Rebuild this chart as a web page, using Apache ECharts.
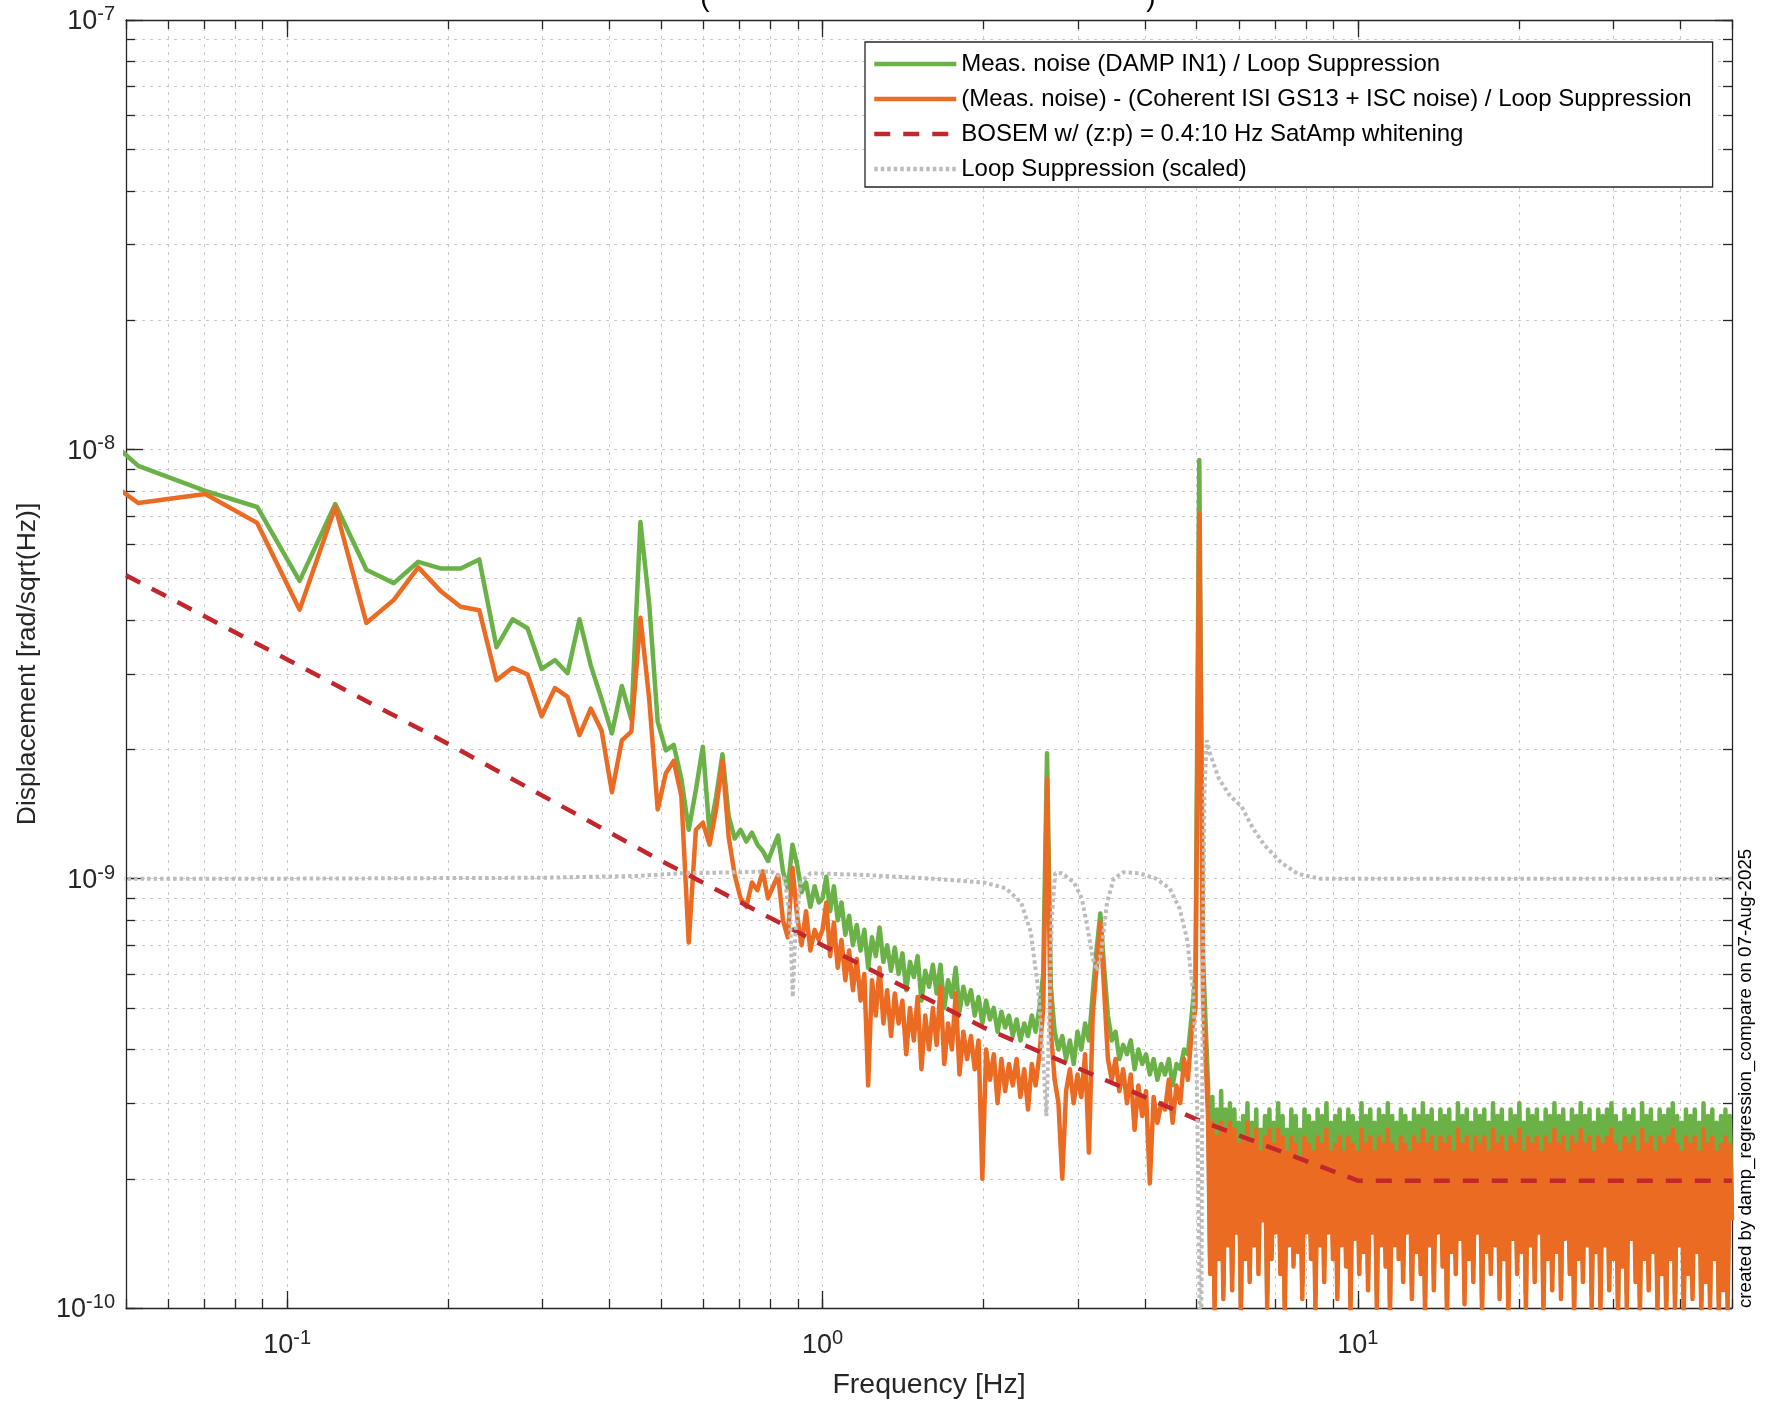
<!DOCTYPE html>
<html><head><meta charset="utf-8">
<script src="https://cdn.jsdelivr.net/npm/echarts@6/dist/echarts.min.js"></script>
<style>html,body{margin:0;padding:0;background:#fff}#c{width:1769px;height:1407px}</style>
</head><body><div id="c"></div>
<script>
// ---------------- data (values in units of 1e-10 rad/sqrt(Hz)) ----------------
const UNIT = 1e-10;
const xMajorTicks = [0.1, 1, 10];
const xGridTicks = [0.05,0.06,0.07,0.08,0.09,0.1,0.2,0.3,0.4,0.5,0.6,0.7,0.8,0.9,1,2,3,4,5,6,7,8,9,10,20,30,40,50];
const yMajorTicks = [1e-10, 1e-9, 1e-8, 1e-7];
const yGridTicks = [1e-10,2e-10,3e-10,4e-10,5e-10,6e-10,7e-10,8e-10,9e-10,
  1e-9,2e-9,3e-9,4e-9,5e-9,6e-9,7e-9,8e-9,9e-9,
  1e-8,2e-8,3e-8,4e-8,5e-8,6e-8,7e-8,8e-8,9e-8,1e-7];
const legendNames = [
  'Meas. noise (DAMP IN1) / Loop Suppression',
  '(Meas. noise) - (Coherent ISI GS13 + ISC noise) / Loop Suppression',
  'BOSEM w/ (z:p) = 0.4:10 Hz SatAmp whitening',
  'Loop Suppression (scaled)'
];

// low-frequency FFT bins (Hz)
const freqLow = [0.0352,0.0527,0.0703,0.0879,0.1055,0.1230,0.1406,0.1582,0.1758,0.1934,
  0.2109,0.2285,0.2461,0.2637,0.2812,0.2988,0.3164,0.3340,0.3516,0.3691,
  0.3867,0.4043,0.4219,0.4395,0.4570,0.4746,0.4922,0.5098,0.5273,0.5449,
  0.5625,0.5801,0.5977,0.6152,0.6328,0.6504,0.6680,0.6855,0.7031,0.7207,
  0.7383,0.7559,0.7734,0.7910,0.8086,0.8262,0.8438,0.8613,0.8789,0.8965,
  0.9141,0.9316,0.9492,0.9668,0.9844];
const measLow = [143.6,91.5,80.0,73.4,49.4,74.6,52.4,48.8,54.7,52.8,
  52.8,55.4,34.6,40.2,38.3,30.8,32.3,30.1,40.2,31.4,
  26.2,21.8,28.1,23.5,67.7,43.6,23.2,19.9,20.5,17.1,
  13.0,16.1,20.3,12.8,15.5,19.5,14.0,12.4,13.0,12.2,
  12.8,12.0,11.6,11.0,11.8,12.6,10.4,9.5,12.0,10.8,
  9.3,9.8,8.6,9.6,8.8];
const residLow = [107.6,75.0,78.7,67.4,42.3,73.4,39.4,44.6,53.1,46.8,
  43.0,42.2,29.0,31.0,29.9,23.9,27.8,26.5,21.6,24.9,
  22.1,15.9,21.0,22.0,40.5,26.2,14.5,17.6,18.8,15.6,
  7.1,13.0,13.5,12.0,14.5,18.8,12.5,10.2,9.0,8.6,
  9.8,9.4,10.4,9.0,9.6,10.2,8.0,7.3,10.6,8.2,
  7.0,8.4,6.8,7.6,7.2];

const MID_F0 = 1.0, MID_F1 = 5.14;
const measMid = [9.0,10.1,8.4,9.6,8.0,8.8,7.4,8.2,7.0,7.8,
  6.8,7.6,6.2,7.3,6.6,7.7,6.4,7.0,6.1,6.9,
  6.0,6.7,5.5,6.4,5.9,6.6,5.2,6.1,5.6,6.3,
  5.4,6.3,5.0,5.8,5.3,6.2,4.9,5.6,5.1,5.5,
  4.8,5.3,4.6,5.2,4.7,5.0,4.4,4.9,4.5,4.8,
  4.3,4.7,4.2,4.6,4.3,4.8,4.4,5.0,6.0,19.6,
  5.6,4.4,4.0,4.3,3.8,4.2,3.7,4.4,4.0,4.6,
  4.2,5.4,6.8,8.3,6.2,4.8,4.2,4.4,3.8,4.1,
  3.9,4.2,3.6,4.0,3.7,3.9,3.5,3.8,3.4,3.7,
  3.5,3.8,3.3,3.7,3.6,4.0,3.9,4.8,6.0,94.4,
  6.5];
const residMid = [7.6,8.8,6.6,7.9,6.2,7.2,5.8,6.8,5.5,6.5,
  5.2,6.0,3.3,5.8,4.8,6.2,4.6,5.5,4.3,5.4,
  4.6,5.2,3.9,5.0,4.2,5.3,3.6,4.8,4.0,5.0,
  4.1,5.6,3.7,4.6,4.0,5.4,3.5,4.4,3.8,4.3,
  3.6,4.2,2.0,4.0,3.4,3.9,3.0,3.8,3.2,3.7,
  3.3,3.8,3.1,3.6,2.9,3.7,3.3,3.9,5.0,17.1,
  4.4,3.4,3.0,2.0,3.2,3.6,3.0,3.5,3.1,3.9,
  2.3,4.8,6.2,7.9,5.5,3.8,3.4,3.8,3.2,3.6,
  3.0,3.5,2.6,3.3,2.8,3.2,1.95,3.1,2.7,3.0,
  2.9,3.4,2.7,3.3,3.0,3.8,3.4,4.4,5.0,71.0,
  5.2];

const HIGH_F0 = 5.25, HIGH_F1 = 50;
const measHigh = [3.3,1.3,3.1,1.06,2.9,1.4,3.2,1.13,2.9,1.5,
  3.0,1.2,2.9,1.6,2.7,1.05,2.8,1.4,3.0,1.25,
  2.7,1.5,2.9,1.3,2.6,1.7,2.8,1.08,2.9,1.4,
  2.7,1.6,3.0,1.3,2.8,1.04,2.6,1.5,2.9,1.35,
  2.8,1.45,2.6,1.13,2.9,1.6,2.8,1.4,2.7,1.07,
  2.9,1.5,2.8,1.25,3.0,1.6,2.7,1.4,2.8,1.13,
  2.9,1.5,2.7,1.35,2.9,1.05,2.8,1.55,2.7,1.3,
  3.0,1.45,2.8,1.2,2.9,1.6,2.7,1.08,2.9,1.5,
  2.8,1.35,3.0,1.04,2.8,1.5,2.7,1.4,2.9,1.25,
  2.8,1.6,2.7,1.13,2.9,1.45,2.8,1.3,3.0,1.06,
  2.8,1.5,2.9,1.2,2.7,1.6,2.9,1.35,2.8,1.04,
  2.9,1.45,2.7,1.3,3.0,1.55,2.8,1.1,2.9,1.4,
  2.7,1.25,2.9,1.6,2.8,1.05,2.9,1.45,2.7,1.3,
  3.0,1.5,2.8,1.13,2.9,1.4,2.7,1.04,2.9,1.55,
  2.8,1.3,3.0,1.45,2.7,1.08,2.9,1.5,2.8,1.25,
  2.9,1.6,2.7,1.05,2.9,1.4,2.8,1.2,3.0,1.45,
  2.8,1.13,2.9,1.55,2.7,1.3,2.9,1.04,2.8,1.4,
  3.0,1.25,2.8,1.5,2.9,1.08,2.7,1.45,2.9,1.06,
  2.8,1.5,2.9,1.2,3.0,1.4,2.8,1.04,2.7,1.35,
  2.9,1.08,2.8,1.55,2.9,1.25,2.7,1.05,3.0,1.4,
  2.8,1.2,2.9,1.45,2.7,1.06,2.9,1.3,2.8,1.04,
  2.9,1.4,3.0,1.08,2.8,1.5,2.7,1.05,2.9,1.3,
  2.8,1.13,2.9,1.45,2.7,1.04,3.0,1.25,2.8,1.08,
  2.9,1.4,2.7,1.05,2.8,1.2,2.9,1.06,2.8,1.7];
const residHigh = [2.8,1.2,2.7,0.98,2.5,1.3,2.7,1.05,2.6,1.4,
  2.7,1.1,2.6,1.5,2.4,0.97,2.5,1.3,2.7,1.15,
  2.4,1.4,2.6,1.2,2.3,1.6,2.5,1.0,2.6,1.3,
  2.4,1.5,2.6,1.2,2.5,0.96,2.3,1.4,2.5,1.25,
  2.4,1.35,2.2,1.05,2.5,1.5,2.4,1.3,2.3,0.99,
  2.5,1.4,2.4,1.15,2.6,1.5,2.3,1.3,2.4,1.05,
  2.5,1.4,2.3,1.25,2.5,0.97,2.4,1.45,2.3,1.2,
  2.6,1.35,2.4,1.1,2.5,1.5,2.3,1.0,2.5,1.4,
  2.4,1.25,2.6,0.96,2.4,1.4,2.3,1.3,2.5,1.15,
  2.4,1.5,2.3,1.05,2.5,1.35,2.4,1.2,2.6,0.98,
  2.4,1.4,2.5,1.1,2.3,1.5,2.5,1.25,2.4,0.96,
  2.5,1.35,2.3,1.2,2.6,1.45,2.4,1.02,2.5,1.3,
  2.3,1.15,2.5,1.5,2.4,0.97,2.5,1.35,2.3,1.2,
  2.6,1.4,2.4,1.05,2.5,1.3,2.3,0.96,2.5,1.45,
  2.4,1.2,2.6,1.35,2.3,1.0,2.5,1.4,2.4,1.15,
  2.5,1.5,2.3,0.97,2.5,1.3,2.4,1.1,2.6,1.35,
  2.4,1.05,2.5,1.45,2.3,1.2,2.5,0.96,2.4,1.3,
  2.6,1.15,2.4,1.4,2.5,1.0,2.3,1.35,2.5,0.98,
  2.4,1.4,2.5,1.1,2.6,1.3,2.4,0.96,2.3,1.25,
  2.5,1.0,2.4,1.45,2.5,1.15,2.3,0.97,2.6,1.3,
  2.4,1.1,2.5,1.35,2.3,0.98,2.5,1.2,2.4,0.96,
  2.5,1.3,2.6,1.0,2.4,1.4,2.3,0.97,2.5,1.2,
  2.4,1.05,2.5,1.35,2.3,0.96,2.6,1.15,2.4,1.0,
  2.5,1.3,2.3,0.97,2.4,1.1,2.5,0.98,2.4,1.6];

// loop suppression (scaled)
const loopFreq = [0.035,0.1,0.3,0.45,0.55,0.7,0.8,0.85,0.87,0.88,0.89,0.91,0.95,1.2,1.6,2.0,2.2,2.35,2.45,2.53,2.59,2.62,2.65,2.68,2.72,2.8,2.95,3.05,3.12,3.2,3.26,3.32,3.4,3.5,3.65,3.9,4.2,4.45,4.65,4.8,4.92,5.0,5.05,5.09,5.13,5.17,5.22,5.3,5.5,5.77,6.07,6.37,6.68,7.19,7.74,8.5,10,20,50];
const loopSupp = [10.0,10.0,10.05,10.15,10.3,10.35,10.4,10.0,8.0,5.3,7.5,9.8,10.3,10.2,10.0,9.8,9.5,8.8,7.5,5.5,3.6,2.8,4.5,8.0,10.3,10.3,9.8,9.0,7.8,6.5,6.1,6.8,8.8,10.0,10.35,10.3,10.0,9.5,8.5,7.2,5.5,3.5,1.5,0.5,5.0,16.0,21.0,19.5,17.1,15.6,14.7,13.1,12.0,10.9,10.25,10.0,10.0,10.0,10.0];

// BOSEM noise model
const boseFreq = [0.05,0.1,0.2,0.5,1,2,5,10,50];
const boseNoise = [50.9,32.4,20.6,11.0,7.0,4.5,2.75,1.98,1.98];

// ---------------- build ----------------
const logGrid = (f0, f1, n) => Array.from({length: n}, (_, i) => f0 * Math.pow(f1 / f0, i / (n - 1)));
const freqMid = logGrid(MID_F0, MID_F1, measMid.length);
const freqHigh = logGrid(HIGH_F0, HIGH_F1, measHigh.length);
const pairs = (fs, vs) => fs.map((f, i) => [f, vs[i] * UNIT]);
const measData = pairs(freqLow, measLow).concat(pairs(freqMid, measMid), pairs(freqHigh, measHigh));
const residData = pairs(freqLow, residLow).concat(pairs(freqMid, residMid), pairs(freqHigh, residHigh));

const AX = '#262626';
const GRID = '#c9c9c9';
const FONT = '"Liberation Sans", Arial, Helvetica, sans-serif';
const pow10 = v => '{b|10}{s|' + Math.round(Math.log10(v)) + '}';
const rich = {
  b: {fontSize: 27, fontFamily: FONT, color: AX, verticalAlign: 'bottom'},
  s: {fontSize: 20, fontFamily: FONT, color: AX, verticalAlign: 'bottom', padding: [0, 0, 11, 0]}
};
const tickLine = {color: AX, width: 1.3};

function xAxisDef(pos, ticks, len, withLine, extra) {
  return Object.assign({
    type: 'log', logBase: 10, min: 0.05, max: 50, position: pos, gridIndex: 0,
    axisLine: {show: withLine, onZero: false, lineStyle: {color: AX, width: 1.3}},
    axisTick: {show: true, inside: true, length: len, customValues: ticks, lineStyle: tickLine},
    axisLabel: {show: false}, splitLine: {show: false}, minorTick: {show: false}
  }, extra || {});
}
function yAxisDef(pos, ticks, len, withLine, extra) {
  return Object.assign({
    type: 'log', logBase: 10, min: 1e-10, max: 1e-7, position: pos, gridIndex: 0,
    axisLine: {show: withLine, onZero: false, lineStyle: {color: AX, width: 1.3}},
    axisTick: {show: true, inside: true, length: len, customValues: ticks, lineStyle: tickLine},
    axisLabel: {show: false}, splitLine: {show: false}, minorTick: {show: false}
  }, extra || {});
}

const chart = echarts.init(document.getElementById('c'), null, {renderer: 'canvas', width: 1769, height: 1407});
chart.setOption({
  animation: false,
  backgroundColor: '#ffffff',
  grid: {left: 126, right: 37, top: 20, bottom: 99, containLabel: false, outerBoundsMode: 'none'},
  xAxis: [
    xAxisDef('bottom', xGridTicks, 9, true, {
      axisLabel: {show: true, customValues: xMajorTicks, formatter: pow10, rich: rich, margin: 20},
      splitLine: {show: true, lineStyle: {color: GRID, width: 1, type: [3, 5]}},
      name: 'Frequency [Hz]', nameLocation: 'middle', nameGap: 63,
      nameTextStyle: {fontSize: 28.5, fontFamily: FONT, color: AX}
    }),
    xAxisDef('bottom', xMajorTicks, 17, false),
    xAxisDef('top', xGridTicks, 9, true),
    xAxisDef('top', xMajorTicks, 17, false)
  ],
  yAxis: [
    yAxisDef('left', yGridTicks, 9, true, {
      axisLabel: {show: true, customValues: yMajorTicks, formatter: pow10, rich: rich, margin: 11},
      splitLine: {show: true, lineStyle: {color: GRID, width: 1, type: [3, 5]}},
      name: 'Displacement [rad/sqrt(Hz)]', nameLocation: 'middle', nameGap: 85,
      nameTextStyle: {fontSize: 26.5, fontFamily: FONT, color: AX}
    }),
    yAxisDef('left', yMajorTicks, 17, false),
    yAxisDef('right', yGridTicks, 9, true),
    yAxisDef('right', yMajorTicks, 17, false)
  ],
  legend: {
    show: true, orient: 'vertical', left: 865, top: 42,
    padding: [8, 21, 4, 7], itemGap: 7, itemWidth: 82, itemHeight: 16,
    backgroundColor: '#ffffff', borderColor: AX, borderWidth: 1.3, borderRadius: 0,
    textStyle: {fontSize: 24, fontFamily: FONT, color: '#000000', lineHeight: 28},
    itemStyle: {opacity: 0}, lineStyle: {width: 4.5}, selectedMode: false,
    data: legendNames
  },
  series: [
    {name: legendNames[0], type: 'line', xAxisIndex: 0, yAxisIndex: 0, data: measData,
     symbol: 'none', showSymbol: false, silent: true, clip: true,
     itemStyle: {color: '#6ab247'}, lineStyle: {color: '#6ab247', width: 4.5, join: 'round'}},
    {name: legendNames[1], type: 'line', xAxisIndex: 0, yAxisIndex: 0, data: residData,
     symbol: 'none', showSymbol: false, silent: true, clip: true,
     itemStyle: {color: '#ec6b22'}, lineStyle: {color: '#ec6b22', width: 4.5, join: 'round'}},
    {name: legendNames[2], type: 'line', xAxisIndex: 0, yAxisIndex: 0, data: pairs(boseFreq, boseNoise),
     symbol: 'none', showSymbol: false, silent: true, clip: true,
     itemStyle: {color: '#c1272d'}, lineStyle: {color: '#c1272d', width: 4.5, type: [16, 13]}},
    {name: legendNames[3], type: 'line', xAxisIndex: 0, yAxisIndex: 0, data: pairs(loopFreq, loopSupp),
     symbol: 'none', showSymbol: false, silent: true, clip: true,
     itemStyle: {color: '#bdbdbd'}, lineStyle: {color: '#bdbdbd', width: 4, type: [3.5, 3]}}
  ],
  graphic: [
    {type: 'text', x: 1746, y: 1308, rotation: Math.PI / 2, silent: true,
     style: {text: 'created by damp_regression_compare on 07-Aug-2025', fontSize: 18.7, fontFamily: FONT,
             fill: '#000000', textAlign: 'left', textVerticalAlign: 'middle'}},
    {type: 'text', x: 705, y: 12, silent: true,
     style: {text: '(', fontSize: 28, fontFamily: FONT, fill: '#000000', textAlign: 'center', textVerticalAlign: 'bottom'}},
    {type: 'text', x: 1151, y: 12, silent: true,
     style: {text: ')', fontSize: 28, fontFamily: FONT, fill: '#000000', textAlign: 'center', textVerticalAlign: 'bottom'}}
  ]
});
</script>
</body></html>
